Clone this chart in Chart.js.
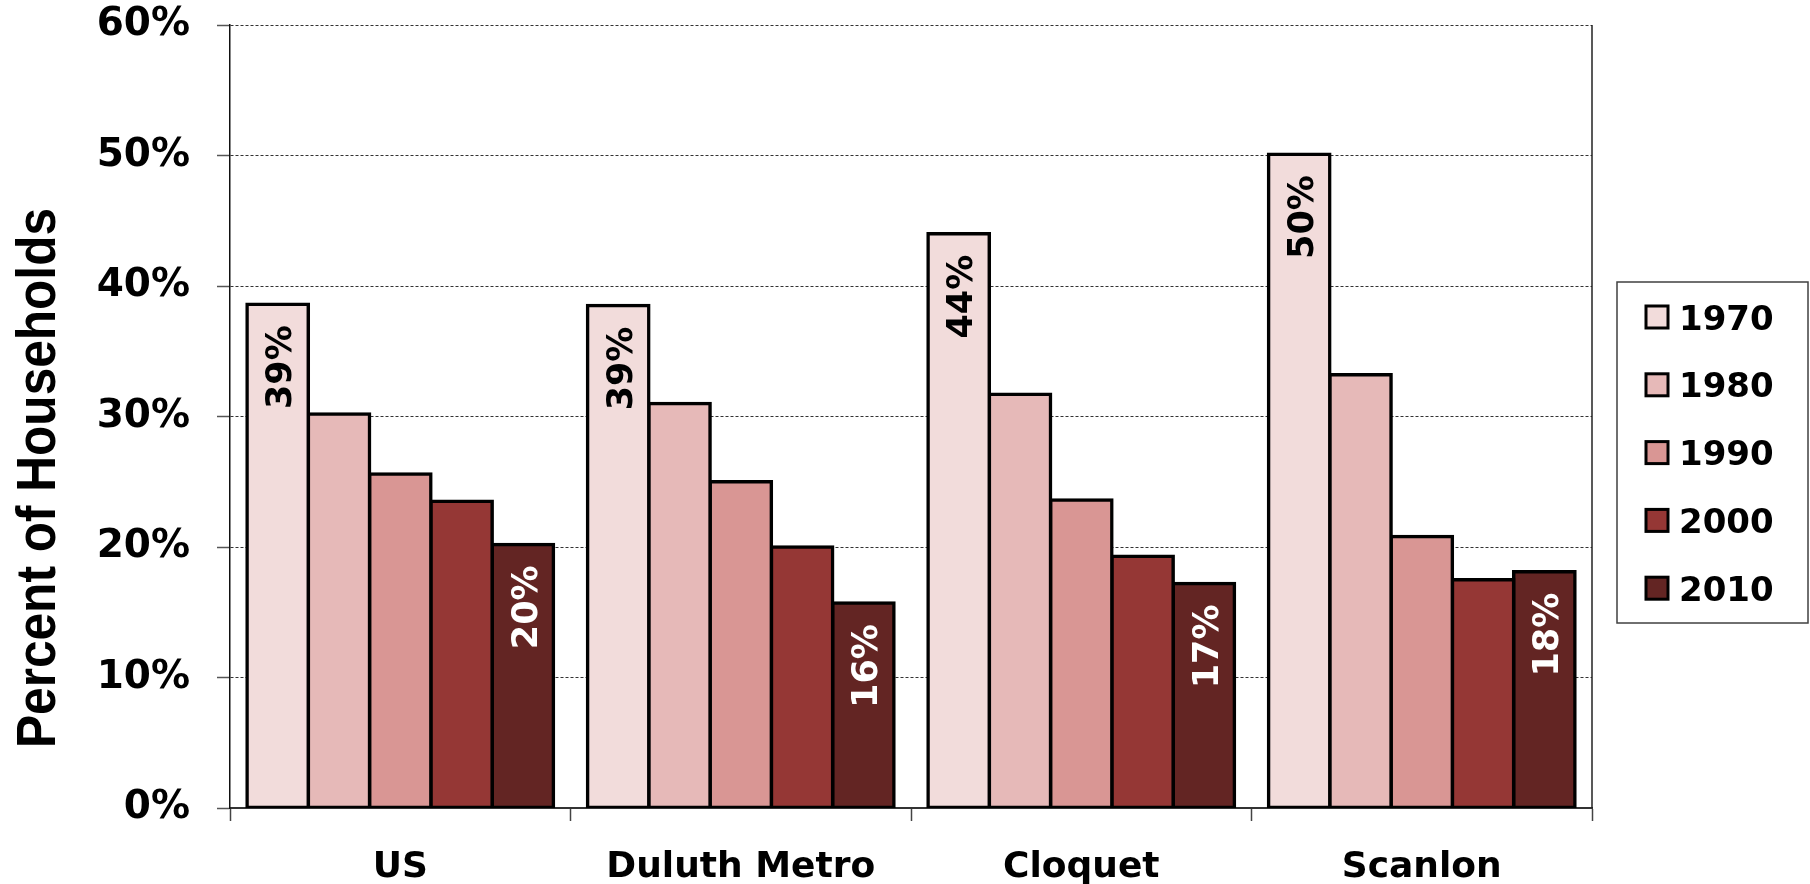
<!DOCTYPE html>
<html>
<head>
<meta charset="utf-8">
<title>Percent of Households</title>
<script src="https://cdn.jsdelivr.net/npm/chart.js@4.4.1/dist/chart.umd.min.js"></script>
<style>
  html, body { margin: 0; padding: 0; background: #ffffff; }
  #wrap { width: 1810px; height: 884px; position: relative; }
</style>
</head>
<body>
<div id="wrap"><canvas id="chart"></canvas></div>
<script>
// Share of households, by area and census year (percent)
const categories = ['US', 'Duluth Metro', 'Cloquet', 'Scanlon'];
const years = ['1970', '1980', '1990', '2000', '2010'];
const v1970 = [38.6, 38.5, 44.0, 50.1];
const v1980 = [30.2, 31.0, 31.7, 33.2];
const v1990 = [25.6, 25.0, 23.6, 20.8];
const v2000 = [23.5, 20.0, 19.3, 17.5];
const v2010 = [20.2, 15.7, 17.2, 18.1];
const yTicks = [0, 10, 20, 30, 40, 50, 60];
const yTitle = 'Percent of Households';

const seriesValues = [v1970, v1980, v1990, v2000, v2010];
const seriesColors = ['#F2DCDB', '#E6B9B8', '#D99694', '#953735', '#632523'];
// which series carry value labels, and in what colour
const labelColors = { 0: '#000000', 4: '#ffffff' };

const FONT = '"DejaVu Sans", Verdana, sans-serif';

// value labels, rotated, just inside the top of the bar
const valueLabels = {
  id: 'valueLabels',
  afterDatasetsDraw(chart) {
    const ctx = chart.ctx;
    const size = 35;
    Object.keys(labelColors).forEach(k => {
      const di = Number(k);
      const meta = chart.getDatasetMeta(di);
      meta.data.forEach((bar, i) => {
        const v = chart.data.datasets[di].data[i];
        const txt = Math.round(v) + '%';
        ctx.save();
        ctx.font = 'bold ' + size + 'px ' + FONT;
        ctx.fillStyle = labelColors[k];
        ctx.translate(bar.x + 1, bar.y + 21);
        ctx.rotate(-Math.PI / 2);
        ctx.textAlign = 'right';
        ctx.textBaseline = 'alphabetic';
        ctx.fillText(txt, 0, size * 0.365);
        ctx.restore();
      });
    });
  }
};

// right edge of the plot frame
const plotFrame = {
  id: 'plotFrame',
  afterDatasetsDraw(chart) {
    const { ctx, chartArea: a } = chart;
    ctx.save();
    ctx.strokeStyle = '#222222';
    ctx.lineWidth = 1.5;
    ctx.beginPath();
    ctx.moveTo(a.right, a.top);
    ctx.lineTo(a.right, a.bottom);
    ctx.stroke();
    ctx.restore();
  }
};

// rotated, condensed vertical axis title
const axisTitle = {
  id: 'axisTitle',
  afterDraw(chart) {
    const ctx = chart.ctx;
    const size = 56;
    ctx.save();
    ctx.font = 'bold ' + size + 'px "Liberation Sans", Arial, sans-serif';
    const w = ctx.measureText(yTitle).width;
    ctx.translate(35, 478);
    ctx.rotate(-Math.PI / 2);
    ctx.scale(540 / w, 1);
    ctx.fillStyle = '#000000';
    ctx.textAlign = 'center';
    ctx.textBaseline = 'alphabetic';
    ctx.fillText(yTitle, 0, size * 0.72 / 2);
    ctx.restore();
  }
};

// boxed legend to the right of the plot
const boxedLegend = {
  id: 'boxedLegend',
  afterDraw(chart) {
    const ctx = chart.ctx;
    const box = { x: 1617, y: 282, w: 191, h: 341 };
    ctx.save();
    ctx.fillStyle = '#ffffff';
    ctx.fillRect(box.x, box.y, box.w, box.h);
    ctx.strokeStyle = '#404040';
    ctx.lineWidth = 1.5;
    ctx.strokeRect(box.x, box.y, box.w, box.h);
    ctx.font = 'bold 34px ' + FONT;
    ctx.textAlign = 'left';
    ctx.textBaseline = 'alphabetic';
    chart.data.datasets.forEach((ds, i) => {
      const cy = 317 + i * 67.8;
      ctx.fillStyle = ds.backgroundColor;
      ctx.fillRect(1646, cy - 11, 22, 22);
      ctx.strokeStyle = '#000000';
      ctx.lineWidth = 3;
      ctx.strokeRect(1646, cy - 11, 22, 22);
      ctx.fillStyle = '#000000';
      ctx.fillText(ds.label, 1679, cy + 12.5);
    });
    ctx.restore();
  }
};

const datasets = years.map((y, i) => ({
  label: y,
  data: seriesValues[i],
  backgroundColor: seriesColors[i],
  borderColor: '#000000',
  borderWidth: 3.5,
  borderSkipped: false,
  inflateAmount: 1.75,
  categoryPercentage: 0.9,
  barPercentage: 1.0
}));

new Chart(document.getElementById('chart'), {
  type: 'bar',
  data: { labels: categories, datasets },
  plugins: [plotFrame, valueLabels, axisTitle, boxedLegend],
  options: {
    responsive: true,
    maintainAspectRatio: false,
    animation: false,
    layout: { padding: { top: 25, right: 218, left: 0, bottom: 0 } },
    plugins: {
      legend: { display: false },
      tooltip: { enabled: false },
      title: { display: false }
    },
    scales: {
      x: {
        afterFit: s => { s.height = 76; },
        grid: {
          offset: true,
          drawOnChartArea: false,
          drawTicks: true,
          tickLength: 13,
          tickColor: '#444444',
          tickWidth: 1.5
        },
        border: { display: true, color: '#333333', width: 2 },
        ticks: {
          color: '#000000',
          font: { family: FONT, size: 36, weight: 'bold' },
          padding: 25,
          maxRotation: 0,
          autoSkip: false
        }
      },
      y: {
        min: yTicks[0],
        max: yTicks[yTicks.length - 1],
        afterFit: s => { s.width = 230; s.paddingTop = 0; s.paddingBottom = 0; },
        afterBuildTicks: s => { s.ticks = yTicks.map(v => ({ value: v })); },
        grid: {
          color: '#333333',
          lineWidth: 1,
          drawTicks: true,
          tickLength: 13,
          tickColor: '#555555',
          tickWidth: 1.5,
          tickBorderDash: []
        },
        border: { display: true, color: '#111111', width: 1.5, dash: [3, 2] },
        ticks: {
          color: '#000000',
          font: { family: FONT, size: 39, weight: 'bold' },
          padding: 27,
          callback: v => v + '%'
        }
      }
    }
  }
});
</script>
</body>
</html>
